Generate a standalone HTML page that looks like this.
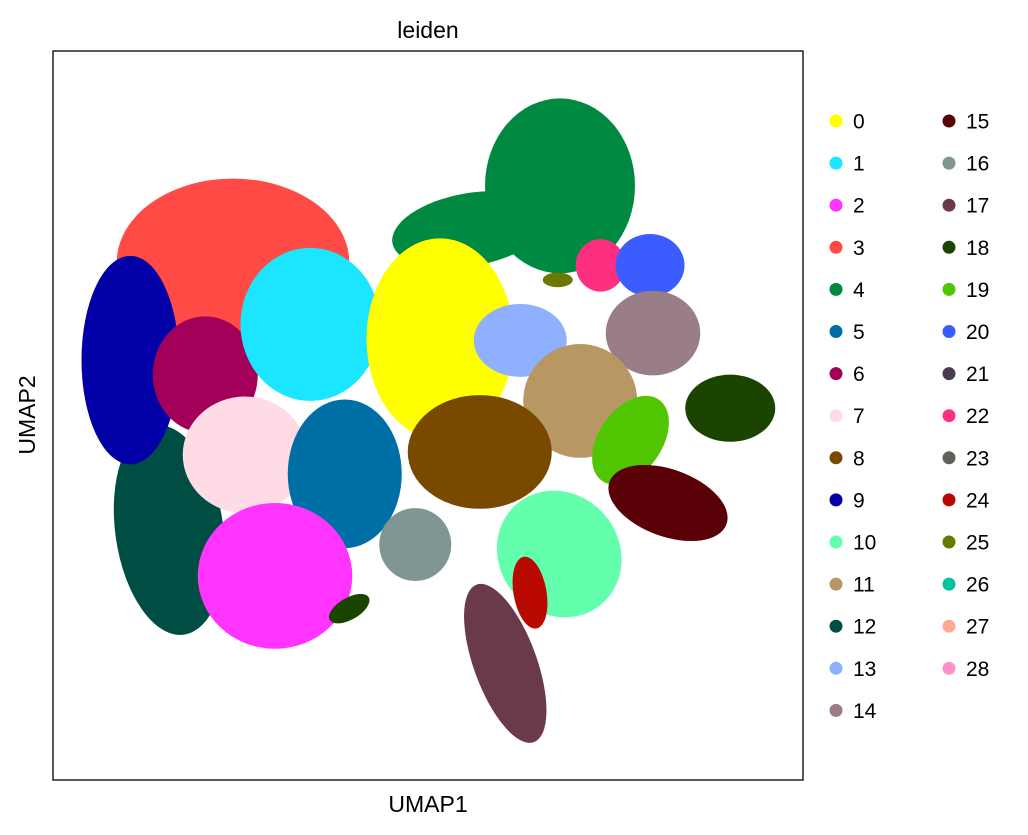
<!DOCTYPE html>
<html><head><meta charset="utf-8"><style>
body{margin:0;background:#fff;}
svg{display:block;font-family:"Liberation Sans",Arial,sans-serif;}
</style></head><body>
<svg id="chart" width="1028" height="835" viewBox="0 0 1028 835">
<text x="428" y="38" font-size="23" text-anchor="middle" fill="#000">leiden</text>
<g id="plot"></g>
<rect x="53" y="51" width="750" height="729" fill="none" stroke="#000" stroke-width="1.3"/>
<text x="428" y="812" font-size="23" text-anchor="middle" fill="#000">UMAP1</text>
<text x="0" y="0" font-size="23" text-anchor="middle" fill="#000" transform="translate(35,415) rotate(-90)">UMAP2</text>
<g id="legend"></g>
</svg>
<script>
const categories=["0","1","2","3","4","5","6","7","8","9","10","11","12","13","14","15","16","17","18","19","20","21","22","23","24","25","26","27","28"];
const colors=["#FFFF00","#1CE6FF","#FF34FF","#FF4A46","#008941","#006FA6","#A30059","#FFDBE5","#7A4900","#0000A6","#63FFAC","#B79762","#004D43","#8FB0FF","#997D87","#5A0007","#809693","#6A3A4C","#1B4400","#4FC601","#3B5DFF","#4A3B53","#FF2F80","#61615A","#BA0900","#6B7900","#00C2A0","#FFAA92","#FF90C9"];
// blobs: cluster index, center umap1, center umap2, radius1, radius2 (umap units), rotation deg
const blobCluster=[4,4,3,12,9,6,1,7,5,2,16,18,0,13,22,20,14,11,8,19,18,15,10,24,17,25];
const blobX=[67.6,55.6,24.0,15.5,10.3,20.3,34.3,25.6,38.9,29.6,48.3,39.5,51.6,62.3,73.0,79.6,80.0,70.3,56.9,77.0,90.3,82.0,67.5,63.6,60.3,67.3];
const blobY=[81.5,75.5,71.0,34.3,57.6,55.6,62.5,44.6,42.0,28.0,32.3,23.5,60.5,60.3,70.6,70.6,61.3,52.0,45.0,46.6,51.0,38.0,31.0,25.7,16.0,68.6];
const blobR1=[10.0,10.5,15.5,7.2,6.5,7.0,9.3,8.3,7.6,10.3,4.8,3.0,9.8,6.2,3.3,4.6,6.3,7.6,9.6,4.2,6.0,8.3,8.0,2.2,4.2,2.0];
const blobR2=[12.0,5.0,11.5,14.5,14.3,8.0,10.5,8.0,10.2,10.0,5.0,1.5,13.8,5.0,3.6,4.3,5.8,7.8,7.8,6.8,4.6,4.6,9.0,5.0,11.5,1.0];
const blobRot=[0,-10,0,-8,0,0,0,0,0,0,0,-30,0,0,0,0,0,0,0,35,0,20,-40,-10,-20,0];
const legendRows=15;

const X0=53,X1=803,Y0=780,Y1=51;
const sx=v=>X0+v/100*(X1-X0);
const sy=v=>Y0-v/100*(Y0-Y1);
const NS="http://www.w3.org/2000/svg";
const plot=document.getElementById('plot');
for(let i=0;i<blobCluster.length;i++){
  const e=document.createElementNS(NS,'ellipse');
  const cx=sx(blobX[i]),cy=sy(blobY[i]);
  e.setAttribute('cx',cx);e.setAttribute('cy',cy);
  e.setAttribute('rx',blobR1[i]*(X1-X0)/100);
  e.setAttribute('ry',blobR2[i]*(Y0-Y1)/100);
  e.setAttribute('transform',`rotate(${blobRot[i]} ${cx} ${cy})`);
  e.setAttribute('fill',colors[blobCluster[i]]);
  
  
  plot.appendChild(e);
}
const leg=document.getElementById('legend');
categories.forEach((c,i)=>{
  const col=Math.floor(i/legendRows),row=i%legendRows;
  const x=836+col*113,y=121+row*42.1;
  const g=document.createElementNS(NS,'g');
  
  
  const d=document.createElementNS(NS,'circle');
  d.setAttribute('cx',x);d.setAttribute('cy',y);d.setAttribute('r',6.5);d.setAttribute('fill',colors[i]);
  const t=document.createElementNS(NS,'text');
  t.setAttribute('x',x+17);t.setAttribute('y',y+7.5);t.setAttribute('font-size','21');t.textContent=c;
  g.appendChild(d);g.appendChild(t);leg.appendChild(g);
});
</script>
</body></html>
